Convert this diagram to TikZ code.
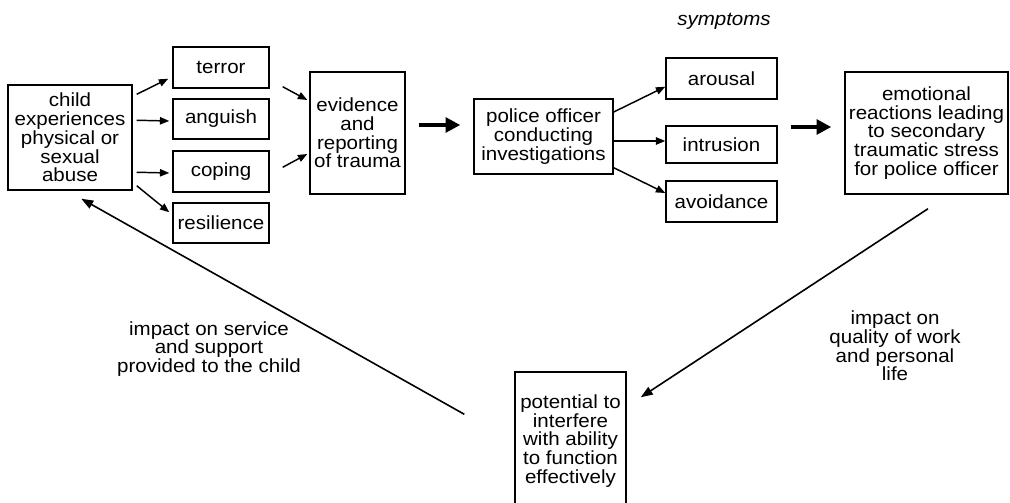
\documentclass[tikz,border=0pt]{standalone}
\usepackage{fontspec}
\setmainfont{Liberation Sans}[FakeStretch=1.08]
\usetikzlibrary{arrows.meta,calc}
\begin{document}
\begin{tikzpicture}[x=0.75pt,y=-0.75pt,
  txt/.style={font=\fontsize{14.25pt}{14.06pt}\selectfont},
  box/.style={draw, line width=1.1pt, inner sep=0pt, align=center, txt},
  lbl/.style={inner sep=0pt, align=center, txt},
  arr/.style={line width=1.1pt, -{Triangle[length=7pt,width=5.5pt]}},
  bigarr/.style={line width=3.6pt, -{Triangle[length=11pt,width=11pt]}},
  longarr/.style={line width=1.2pt, -{Triangle[length=9pt,width=6.5pt]}}]
\useasboundingbox (0,0) rectangle (1010,503);
\clip (0,0) rectangle (1010,503);

\node[box, minimum width=93pt, minimum height=78.75pt] (child) at (70,137.5) {child\\experiences\\physical or\\sexual\\abuse};
\node[box, minimum width=72pt, minimum height=30.75pt] (terror) at (221,67.5) {terror};
\node[box, minimum width=72pt, minimum height=30pt] (anguish) at (221,119) {anguish};
\node[box, minimum width=72pt, minimum height=30.75pt] (coping) at (221,171.5) {coping};
\node[box, minimum width=72pt, minimum height=30pt] (resilience) at (221,223) {resilience};
\node[box, minimum width=71.25pt, minimum height=91.5pt] (evidence) at (357.5,133) {evidence\\and\\reporting\\of trauma};
\node[box, minimum width=104.25pt, minimum height=56.25pt] (police) at (543.5,136.5) {police officer\\conducting\\investigations};
\node[box, minimum width=83.25pt, minimum height=30.75pt] (arousal) at (721.5,78.5) {arousal};
\node[box, minimum width=83.25pt, minimum height=27.75pt] (intrusion) at (721.5,144.5) {intrusion};
\node[box, minimum width=83.25pt, minimum height=30.75pt] (avoidance) at (721.5,201.5) {avoidance};
\node[box, minimum width=122.25pt, minimum height=91.5pt] (emotional) at (926.5,133) {emotional\\reactions leading\\to secondary\\traumatic stress\\for police officer};
\node[box, minimum width=83.25pt, minimum height=103.5pt] (potential) at (570.5,441) {potential to\\interfere\\with ability\\to function\\effectively};

\node[lbl, font=\fontsize{14.25pt}{14.06pt}\selectfont\itshape] (symptoms) at (724,21) {symptoms};
\node[lbl] (leftlbl) at (209,349) {impact on service\\and support\\provided to the child};
\node[lbl] (rightlbl) at (895,346) {impact on\\quality of work\\and personal\\life};

\draw[arr] ($(child.north east)+(4,10)$) -- ($(terror.south west)+(-4,-10)$);
\draw[arr] ($(child.north east)+(4,36)$) -- ($(anguish.west)+(-3,2)$);
\draw[arr] ($(child.north east)+(4,88)$) -- ($(coping.west)+(-3,1.5)$);
\draw[arr] ($(child.south east)+(4,-5)$) -- ($(resilience.north west)+(-3,10)$);
\draw[arr] ($(terror.south east)+(13,-2)$) -- ($(evidence.west)+(-2,-33)$);
\draw[arr] ($(coping.north east)+(13,17)$) -- ($(evidence.west)+(-2,21)$);
\draw[bigarr] ($(evidence.east)+(13,-8)$) -- ($(police.west)+(-13,-11.5)$);
\draw[arr] ($(police.east)+(0,-24.5)$) -- ($(arousal.south west)+(0,-13)$);
\draw[arr] ($(police.east)+(0,4.5)$) -- ($(intrusion.west)+(0,-3.5)$);
\draw[arr] ($(police.south east)+(0,-7)$) -- ($(avoidance.west)+(0,-8.5)$);
\draw[bigarr] ($(intrusion.east)+(13,-17.5)$) -- ($(emotional.west)+(-13,-6)$);
\draw[longarr] ($(emotional.south)+(1.5,14)$) -- ($(potential.north east)+(14,26)$);
\draw[longarr] ($(potential.north west)+(-50,43)$) -- ($(child.south west)+(74,8)$);
\end{tikzpicture}
\end{document}
